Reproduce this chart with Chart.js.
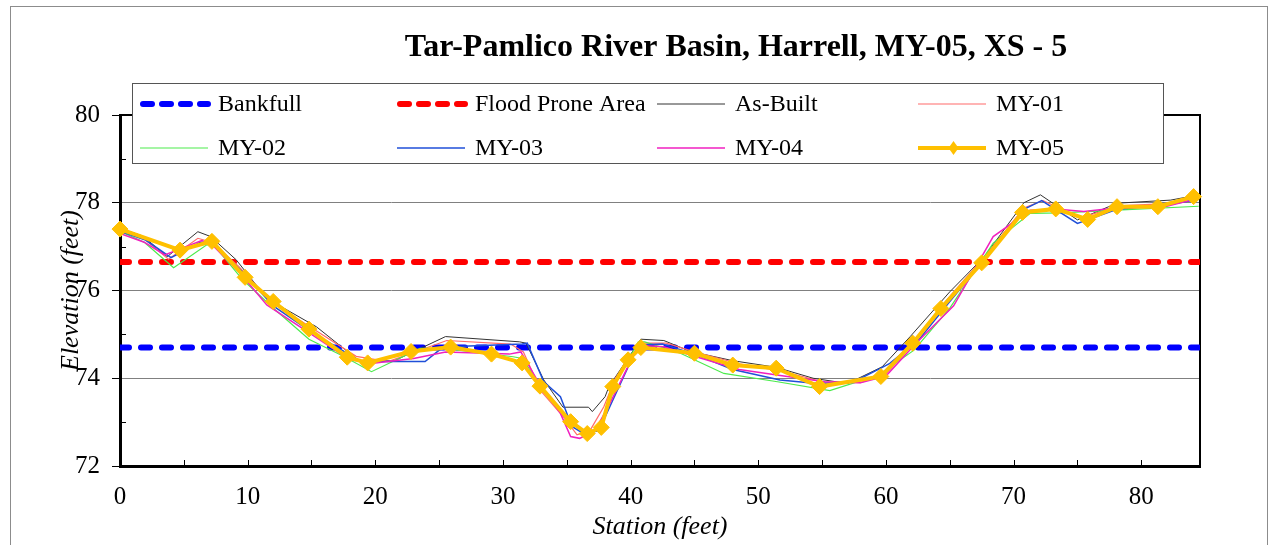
<!DOCTYPE html>
<html>
<head>
<meta charset="utf-8">
<script src="https://cdn.jsdelivr.net/npm/chart.js@4.4.0/dist/chart.umd.min.js"></script>
<style>
    html, body { margin: 0; padding: 0; background: #ffffff; }
</style>
</head>
<body>
<canvas id="chart_xs" width="1277" height="545"></canvas>
<script>
// Title / labels
const chartTitle = 'Tar-Pamlico River Basin, Harrell, MY-05, XS - 5'
const xTitle = 'Station (feet)'
const yTitle = 'Elevation (feet)'

// Reference lines
const bankfull = 74.7
const floodProne = 76.65
const refStations = [0, 84.5]

// Survey data (station, elevation)
const st_asbuilt = [0, 1.8, 3.7, 6.1, 7.1, 9.1, 11.5, 15.4, 18.8, 21.5, 25.5, 31.3, 31.8, 33.2, 34.7, 36.7, 37.0, 38.0, 38.3, 40.8, 42.6, 44.7, 48.0, 51.4, 54.3, 57.0, 59.7, 61.9, 65.0, 67.7, 70.8, 72.1, 75.0, 78.1, 82.3, 84.5]
const el_asbuilt = [77.42, 77.24, 76.77, 77.34, 77.23, 76.70, 75.82, 75.17, 74.38, 74.40, 74.95, 74.83, 74.80, 73.96, 73.34, 73.34, 73.24, 73.58, 73.81, 74.89, 74.86, 74.61, 74.40, 74.25, 74.00, 73.88, 74.26, 74.95, 75.97, 76.77, 78.00, 78.18, 77.61, 77.99, 78.06, 78.18]

const st_my01 = [0, 1.8, 3.8, 6.1, 7.2, 9.3, 11.8, 15.0, 18.5, 21.0, 25.6, 30.6, 31.6, 33.0, 34.8, 35.8, 36.8, 37.9, 38.8, 40.8, 42.8, 45.0, 48.5, 52.0, 55.0, 58.0, 60.0, 62.2, 64.8, 67.8, 70.8, 72.3, 75.2, 78.2, 82.0, 84.5]
const el_my01 = [77.38, 77.20, 76.71, 77.19, 77.10, 76.55, 75.75, 75.15, 74.50, 74.38, 74.86, 74.78, 74.60, 73.70, 73.10, 72.71, 72.80, 73.35, 74.00, 74.80, 74.80, 74.60, 74.33, 74.15, 73.92, 73.90, 74.10, 74.80, 75.80, 76.80, 77.88, 78.05, 77.65, 77.93, 77.98, 78.12]

const st_my02 = [0, 1.9, 4.2, 6.8, 7.3, 9.6, 12.0, 14.8, 17.5, 19.7, 23.5, 25.3, 30.8, 31.5, 33.3, 35.0, 36.3, 37.6, 38.9, 40.6, 41.1, 43.9, 47.3, 51.5, 55.6, 59.4, 62.2, 65.0, 68.4, 71.3, 73.7, 78.1, 84.5]
const el_my02 = [77.35, 77.10, 76.52, 77.04, 77.05, 76.25, 75.60, 74.89, 74.50, 74.15, 74.68, 74.68, 74.49, 74.45, 73.69, 73.12, 72.74, 72.82, 73.92, 74.83, 74.83, 74.57, 74.11, 73.92, 73.72, 74.07, 74.64, 75.60, 77.08, 77.76, 77.77, 77.83, 77.92]

const st_my03 = [0, 2.0, 4.0, 6.3, 7.2, 9.5, 12.0, 15.0, 18.9, 23.9, 25.3, 31.5, 31.9, 33.2, 34.5, 35.4, 36.3, 37.5, 38.6, 40.6, 42.5, 45.0, 48.0, 51.7, 54.6, 57.5, 59.6, 60.3, 62.5, 65.0, 68.0, 70.8, 72.2, 75.0, 78.1, 82.0, 84.5]
const el_my03 = [77.35, 77.15, 76.75, 77.10, 77.10, 76.45, 75.65, 75.05, 74.38, 74.38, 74.71, 74.78, 74.80, 73.92, 73.58, 72.90, 72.74, 72.80, 73.50, 74.76, 74.78, 74.55, 74.20, 73.96, 73.88, 73.92, 74.23, 74.34, 74.85, 75.75, 76.80, 77.85, 78.05, 77.53, 77.85, 77.95, 78.08]

const st_my04 = [0, 1.9, 3.5, 6.4, 7.2, 9.4, 11.5, 15.0, 18.0, 20.0, 23.0, 25.5, 30.5, 31.4, 33.0, 34.5, 35.3, 36.0, 37.2, 38.4, 40.6, 42.6, 45.0, 48.5, 52.0, 55.2, 58.0, 60.0, 62.3, 65.3, 68.4, 71.3, 73.5, 75.5, 78.0, 82.0, 84.5]
const el_my04 = [77.30, 77.10, 76.81, 77.14, 77.05, 76.40, 75.67, 75.00, 74.42, 74.35, 74.45, 74.60, 74.55, 74.60, 73.80, 73.20, 72.67, 72.63, 72.80, 73.44, 74.75, 74.72, 74.50, 74.20, 74.05, 73.92, 73.90, 74.05, 74.78, 75.65, 77.23, 77.83, 77.85, 77.80, 77.88, 77.92, 78.10]

const st_my05 = [0, 4.7, 7.2, 9.8, 12.0, 14.8, 17.8, 19.4, 22.8, 25.9, 29.1, 31.5, 32.9, 35.3, 36.6, 37.7, 38.6, 39.8, 40.8, 45.0, 48.0, 51.4, 54.8, 59.6, 62.1, 64.3, 67.5, 70.7, 73.3, 75.8, 78.1, 81.3, 84.1]
const el_my05 = [77.40, 76.92, 77.12, 76.30, 75.75, 75.12, 74.48, 74.35, 74.61, 74.71, 74.55, 74.35, 73.82, 73.01, 72.74, 72.88, 73.81, 74.42, 74.70, 74.57, 74.30, 74.23, 73.81, 74.04, 74.80, 75.59, 76.63, 77.78, 77.86, 77.62, 77.91, 77.91, 78.14]

const toPoints = (st, el) => st.map((s, i) => ({ x: s, y: el[i] }))

const serif = "'Liberation Serif', 'Times New Roman', serif"

const datasets = [
    {
        label: 'Bankfull',
        data: refStations.map(s => ({ x: s, y: bankfull })),
        borderColor: '#0000FF',
        borderWidth: 6,
        borderDash: [9, 12],
        borderCapStyle: 'round',
        pointRadius: 0,
        order: 7
    },
    {
        label: 'Flood Prone Area',
        data: refStations.map(s => ({ x: s, y: floodProne })),
        borderColor: '#FF0000',
        borderWidth: 6,
        borderDash: [9, 12],
        borderCapStyle: 'round',
        pointRadius: 0,
        order: 6
    },
    {
        label: 'As-Built',
        data: toPoints(st_asbuilt, el_asbuilt),
        borderColor: '#333333',
        borderWidth: 1,
        pointRadius: 0,
        order: 5
    },
    {
        label: 'MY-01',
        data: toPoints(st_my01, el_my01),
        borderColor: '#FF6A6A',
        borderWidth: 1.2,
        pointRadius: 0,
        order: 4
    },
    {
        label: 'MY-02',
        data: toPoints(st_my02, el_my02),
        borderColor: '#4CEB4C',
        borderWidth: 1.2,
        pointRadius: 0,
        order: 3
    },
    {
        label: 'MY-03',
        data: toPoints(st_my03, el_my03),
        borderColor: '#1F4FD8',
        borderWidth: 1.5,
        pointRadius: 0,
        order: 2
    },
    {
        label: 'MY-04',
        data: toPoints(st_my04, el_my04),
        borderColor: '#F020C0',
        borderWidth: 1.5,
        pointRadius: 0,
        order: 1
    },
    {
        label: 'MY-05',
        data: toPoints(st_my05, el_my05),
        borderColor: '#FFC000',
        backgroundColor: '#FFC000',
        borderWidth: 4,
        pointStyle: 'rectRot',
        pointRadius: 8,
        pointBorderWidth: 1,
        clip: false,
        order: 0
    }
]

// outer chart frame
const framePlugin = {
    id: 'frame',
    beforeDraw(chart) {
        const ctx = chart.ctx
        ctx.save()
        ctx.fillStyle = '#ffffff'
        ctx.fillRect(0, 0, chart.width, chart.height)
        ctx.strokeStyle = '#8c8c8c'
        ctx.lineWidth = 1
        ctx.strokeRect(10.5, 6.5, 1257, 600)
        ctx.restore()
    },
    beforeDatasetsDraw(chart) {
        const { ctx, chartArea: a, scales } = chart
        ctx.save()
        ctx.strokeStyle = '#000000'
        ctx.lineWidth = 2
        ctx.beginPath()
        ctx.moveTo(a.left, a.top)
        ctx.lineTo(a.right, a.top)
        ctx.lineTo(a.right, a.bottom)
        ctx.stroke()
        // inward minor ticks
        ctx.lineWidth = 1
        ctx.beginPath()
        scales.y.ticks.forEach(t => {
            if (t.value % 2 !== 0) {
                const y = Math.round(scales.y.getPixelForValue(t.value)) + 0.5
                ctx.moveTo(a.left, y)
                ctx.lineTo(a.left + 6, y)
            }
        })
        scales.x.ticks.forEach(t => {
            const x = Math.round(scales.x.getPixelForValue(t.value)) + 0.5
            ctx.moveTo(x, a.bottom)
            ctx.lineTo(x, a.bottom - 6)
        })
        ctx.stroke()
        ctx.restore()
    }
}

// title + legend box
const legendCols = [140, 397, 657, 918]
const legendRows = [104, 148]
const annotatePlugin = {
    id: 'annotate',
    afterDraw(chart) {
        const ctx = chart.ctx
        ctx.save()
        ctx.fillStyle = '#000000'
        ctx.font = 'bold 32px ' + serif
        ctx.textAlign = 'center'
        ctx.textBaseline = 'middle'
        ctx.fillText(chartTitle, 736, 48)

        ctx.fillStyle = '#ffffff'
        ctx.fillRect(132, 83, 1031, 80)
        ctx.strokeStyle = '#555555'
        ctx.lineWidth = 1
        ctx.strokeRect(132.5, 83.5, 1031, 80)

        ctx.font = '24px ' + serif
        ctx.textAlign = 'left'
        chart.data.datasets.forEach((ds, i) => {
            const x0 = legendCols[i % 4]
            const x1 = x0 + 71
            const y = legendRows[Math.floor(i / 4)]
            ctx.save()
            ctx.strokeStyle = ds.borderColor
            ctx.lineWidth = ds.borderWidth
            ctx.lineCap = ds.borderCapStyle || 'butt'
            ctx.setLineDash(ds.borderDash ? [9, 10] : [])
            ctx.beginPath()
            ctx.moveTo(x0 + (ds.borderDash ? 3 : 0), y)
            ctx.lineTo(x1 - 3, y)
            ctx.stroke()
            if (ds.pointRadius > 0) {
                ctx.fillStyle = ds.backgroundColor
                const m = (x0 + x1) / 2
                ctx.beginPath()
                ctx.moveTo(m, y - 7)
                ctx.lineTo(m + 5, y)
                ctx.lineTo(m, y + 7)
                ctx.lineTo(m - 5, y)
                ctx.closePath()
                ctx.fill()
            }
            ctx.restore()
            ctx.fillStyle = '#000000'
            ctx.fillText(ds.label, x1 + 7, y + 1)
        })
        ctx.restore()
    }
}

new Chart(document.getElementById('chart_xs'), {
    type: 'line',
    data: { datasets: datasets },
    options: {
        responsive: false,
        animation: false,
        layout: {
            padding: { top: 115, left: 10, right: 77, bottom: 0 }
        },
        plugins: {
            legend: { display: false },
            title: { display: false },
            tooltip: { enabled: false }
        },
        elements: {
            line: { tension: 0 }
        },
        scales: {
            x: {
                type: 'linear',
                min: 0,
                max: 84.6,
                afterFit: scale => { scale.height = 79 },
                ticks: {
                    stepSize: 5,
                    includeBounds: false,
                    autoSkip: false,
                    maxRotation: 0,
                    padding: 16,
                    color: '#000000',
                    font: { family: serif, size: 25 },
                    callback: v => (v % 10 === 0 ? v : '')
                },
                grid: { display: true, drawOnChartArea: false, drawTicks: false },
                border: { color: '#000000', width: 3 },
                title: {
                    display: true,
                    text: xTitle,
                    color: '#000000',
                    font: { family: serif, size: 26, style: 'italic' },
                    padding: { top: 0, bottom: 2 }
                }
            },
            y: {
                min: 72,
                max: 80,
                afterFit: scale => { scale.width = 110 },
                ticks: {
                    stepSize: 1,
                    padding: 12,
                    color: '#000000',
                    font: { family: serif, size: 25 },
                    callback: v => (v % 2 === 0 ? v : '')
                },
                grid: {
                    color: ctx => (ctx.tick && ctx.tick.value % 2 === 0 && ctx.tick.value > 72 && ctx.tick.value < 80 ? '#808080' : 'rgba(0,0,0,0)'),
                    tickColor: ctx => (ctx.tick && ctx.tick.value % 2 === 0 ? '#000000' : 'rgba(0,0,0,0)'),
                    tickLength: 8,
                    lineWidth: 1
                },
                border: { color: '#000000', width: 3 },
                title: {
                    display: true,
                    text: yTitle,
                    color: '#000000',
                    font: { family: serif, size: 26, style: 'italic' },
                    padding: { top: 46, bottom: 0 }
                }
            }
        }
    },
    plugins: [framePlugin, annotatePlugin]
});
</script>
</body>
</html>
